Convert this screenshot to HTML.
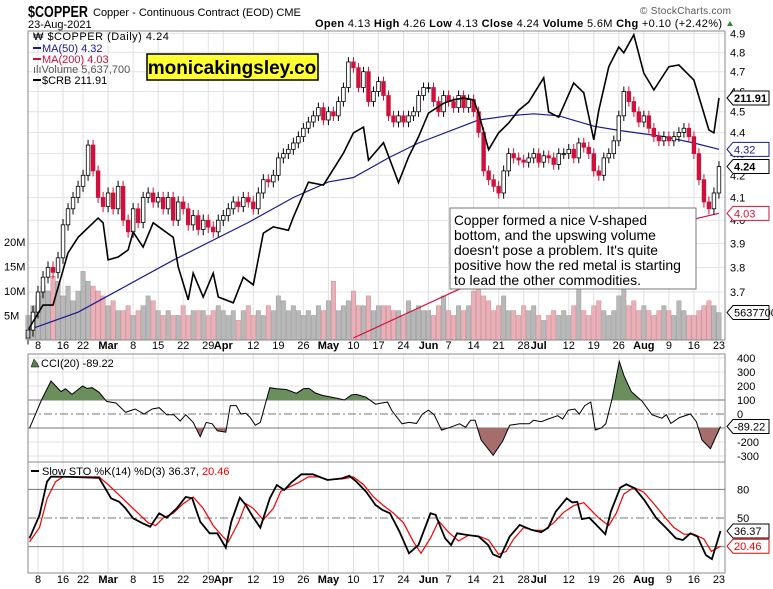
<!DOCTYPE html>
<html><head><meta charset="utf-8"><style>
html,body{margin:0;padding:0;background:#fff;}
svg{display:block;font-family:"Liberation Sans",sans-serif;}
</style></head><body>
<svg id="chart" width="773" height="589" viewBox="0 0 773 589" xmlns="http://www.w3.org/2000/svg">
<text x="28" y="17" font-size="16" font-weight="bold" textLength="60" lengthAdjust="spacingAndGlyphs">$COPPER</text>
<text x="93" y="16" font-size="11">Copper - Continuous Contract (EOD) CME</text>
<text x="28" y="28" font-size="11">23-Aug-2021</text>
<text x="640" y="14" font-size="10" fill="#555" textLength="91">© StockCharts.com</text>
<text x="315" y="27" font-size="11" textLength="407"><tspan font-weight="bold">Open</tspan> 4.13 <tspan font-weight="bold">High</tspan> 4.26 <tspan font-weight="bold">Low</tspan> 4.13 <tspan font-weight="bold">Close</tspan> 4.24 <tspan font-weight="bold">Volume</tspan> 5.6M <tspan font-weight="bold">Chg</tspan> +0.10 (+2.42%)</text>
<polygon points="727,26 733,26 730,21" fill="#2a8a2a"/>
<g id="grid"></g>
<g id="vol"></g>
<g id="main"></g>
<g id="ind"></g>
<g id="axes"></g>
<rect x="28" y="31" width="697" height="309" fill="none" stroke="#888"/>
<rect x="28" y="354" width="697" height="108" fill="none" stroke="#888"/>
<rect x="28" y="462" width="697" height="111" fill="none" stroke="#888"/>
<g font-size="11">
<text x="33" y="40" letter-spacing="0.5">₩ $COPPER (Daily) 4.24</text>
<line x1="33" y1="48" x2="41" y2="48" stroke="#1a1a8c" stroke-width="2"/><text x="42" y="52" fill="#1a1a8c">MA(50) 4.32</text>
<line x1="33" y1="59" x2="41" y2="59" stroke="#d0103a" stroke-width="2"/><text x="42" y="63" fill="#d0103a">MA(200) 4.03</text>
<text x="33" y="73" fill="#555">ılıVolume 5,637,700</text>
<line x1="33" y1="80" x2="41" y2="80" stroke="#000" stroke-width="2"/><text x="42" y="84">$CRB 211.91</text>
</g>
<g>
<rect x="147" y="54" width="171" height="26" fill="#ffff33" stroke="#000" stroke-width="1.5"/>
<text x="232" y="74" font-size="19" font-weight="bold" text-anchor="middle">monicakingsley.co</text>
</g>
<g>
<rect x="450" y="208" width="246" height="81" fill="#fff" stroke="#777"/>
<g font-size="14" font-family="'Liberation Sans Narrow','Liberation Sans',sans-serif">
<text x="454" y="225" textLength="193" lengthAdjust="spacingAndGlyphs">Copper formed a nice V-shaped</text>
<text x="454" y="240" textLength="202" lengthAdjust="spacingAndGlyphs">bottom, and the upswing volume</text>
<text x="454" y="255" textLength="204" lengthAdjust="spacingAndGlyphs">doesn't pose a problem. It's quite</text>
<text x="454" y="270" textLength="227" lengthAdjust="spacingAndGlyphs">positive how the red metal is starting</text>
<text x="454" y="285" textLength="187" lengthAdjust="spacingAndGlyphs">to lead the other commodities.</text>
</g></g>
<g font-size="11">
<polygon points="31,367 34,359 37,363 39,367" fill="#5d7f4f" stroke="#000" stroke-width="0.5"/>
<text x="41" y="367">CCI(20) -89.22</text></g>
<g font-size="11">
<line x1="31" y1="471" x2="39" y2="471" stroke="#000" stroke-width="2"/>
<text x="42" y="475">Slow STO %K(14) %D(3) 36.37, <tspan fill="#e00">20.46</tspan></text></g>
<g id="labels"></g>
</svg>
<script>
const closes=[3.55,3.62,3.70,3.76,3.80,3.78,3.84,3.98,4.05,4.10,4.15,4.20,4.34,4.22,4.10,4.06,
4.12,4.05,4.15,4.00,3.95,4.05,3.99,4.10,4.12,4.08,4.10,4.05,4.10,4.00,4.08,4.05,3.98,4.02,3.96,4.00,
3.97,3.95,4.00,4.02,4.05,4.08,4.06,4.10,4.08,4.05,4.12,4.18,4.17,4.20,4.28,4.30,4.32,4.35,4.38,4.42,4.45,4.48,4.52,4.46,
4.50,4.48,4.55,4.62,4.75,4.72,4.62,4.70,4.55,4.60,4.65,4.58,4.48,4.45,4.48,4.45,4.48,4.50,4.58,4.62,
4.62,4.55,4.50,4.58,4.55,4.52,4.58,4.52,4.56,4.50,4.40,4.22,4.18,4.15,4.12,4.22,4.30,4.28,4.27,4.26,4.28,4.30,4.26,4.29,
4.28,4.25,4.30,4.30,4.32,4.28,4.35,4.33,4.30,4.22,4.20,4.28,4.30,4.36,4.48,4.60,4.55,4.50,4.45,
4.48,4.42,4.38,4.36,4.38,4.36,4.38,4.40,4.42,4.38,4.30,4.18,4.08,4.05,4.12,4.24];
const volumes=[5,7,9,11,10,13,12,9,11,8,10,14,12,11,10,9,
7,8,6,6,7,5,6,7,9,8,6,5,6,5,5,7,5,6,6,6,
5,6,7,6,5,6,4,6,7,5,6,5,7,6,9,8,6,7,6,5,6,5,7,6,
8,12,6,7,8,10,7,7,9,6,7,7,7,6,6,5,8,6,7,6,
6,5,7,9,6,5,7,6,7,10,13,9,8,6,7,9,6,6,5,7,6,7,5,4,
5,6,5,6,5,7,11,6,5,7,8,6,5,6,9,11,7,8,6,
7,6,5,6,7,6,5,8,6,5,5,6,7,8,7,5.6];
const crbIdx=[0,3,5,8,10,14,15,16,18,20,21,23,25,29,30,32,33,35,37,38,41,43,45,47,49,52,53,56,59,63,65,67,68,71,74,76,78,80,83,85,87,89,90,92,94,96,98,100,103,104,106,109,111,113,114,116,118,119,121,123,125,128,130,133,136,137,138];
const crbVal=[171.9,176.2,176.2,185.2,187.9,191.2,190.4,184.0,184.5,185.7,188.8,186.2,190.4,187.9,182.8,177.1,181.7,177.6,181.7,177.6,176.6,181.0,179.7,188.6,189.7,189.1,191.4,197.4,196.9,202.4,205.9,206.9,201.2,204.2,197.3,201.7,205.2,209.3,211.0,211.6,211.9,211.6,209.3,203.0,205.9,207.6,209.8,211.2,215.4,209.5,208.6,214.5,212.8,204.7,209.8,217.3,220.7,219.7,222.8,216.2,213.3,217.3,217.6,215.0,206.4,205.9,211.91];
const ma50Idx=[0,10,29,44,53,60,65,72,78,90,96,101,106,113,118,127,133,138];
const ma50Val=[3.55,3.62,3.83,3.99,4.10,4.17,4.19,4.28,4.35,4.46,4.48,4.49,4.48,4.43,4.41,4.38,4.35,4.32];
const ma200Idx=[65,86,134,138];
const ma200Val=[3.52,3.71,4.01,4.03];
const cciIdx=[0.3,2.7,4.6,6.6,7.5,8.8,10.9,11.8,12.8,14.2,15.7,17.6,19.5,21.4,23.2,24.8,26.2,27.7,29.1,30.4,31.5,33,34.4,35.6,36.8,37.8,39.5,40.4,41.6,42.5,43.5,44.4,45.4,46.4,48.3,49.7,51.6,53.6,55,56.1,57.4,58.8,61.7,63.2,64.6,65.6,67.5,69.4,70.5,71.8,72.7,74.7,76.1,77.6,78.8,80,81.1,82.6,84.3,86.2,87.4,88.4,89.3,90.5,92.9,94.8,96.2,98.2,100.1,101,102.5,103.9,105.8,106.8,107.9,109.2,110.1,111.2,112.4,113.3,114.5,115.4,116.6,118.1,119.1,120.5,122.7,124.6,126.6,127.5,128.4,130.1,132.3,133.5,134.6,136.3,138.3];
const cciVal=[-102,100,236,160,180,140,200,183,188,155,90,78,12,36,0,36,45,-5,-5,-50,-5,-60,-162,-60,-70,-120,-130,60,60,0,5,-26,-80,-60,188,180,175,148,180,183,150,133,112,100,136,140,120,70,78,85,22,-70,-60,-67,0,27,-5,-115,-95,-70,-95,-45,-45,-185,-295,-195,-80,-70,-70,-45,-55,-36,-12,-36,27,36,0,60,85,-115,-100,-70,100,375,268,160,90,-5,-30,-5,-67,-26,0,-55,-185,-248,-89.22];
const kIdx=[0.3,2.3,3.8,4.6,8.2,14.2,16.6,18.2,19.5,21,22.9,24.4,26.2,27.7,29.7,31.5,32.8,34.4,36.3,37.8,39.5,40.6,42.3,43.5,44.9,46.4,48.3,49.7,51.2,52.6,54.6,56.9,59.8,62.7,64.2,65.6,67.5,69.4,70.8,72.3,74.2,76.1,78,80.4,81.4,83.3,84.5,85.7,87.6,90,91.9,92.9,94.3,96.2,98.2,100.6,102.5,103.9,105.4,107.6,108.7,109.7,110.6,112.1,113.5,115.3,116.4,118.3,119.5,121.2,123.1,125.5,127.5,129.4,130.8,132.3,133.7,135.4,136.6,138.3];
const kVal=[28.7,53,88,93.3,93,92,70.6,67,60,49.7,44.4,40.9,54.9,50.3,60,72,70.6,46.1,34,34,18.9,46,71.3,63.6,51.4,39.8,70.6,84.6,79.3,87.3,95.8,95.8,89.8,91.5,94.2,88,77.6,63.6,58.4,54.9,35.7,13,21.7,54.9,53.2,28.7,21.7,34,32.3,30.6,21.7,11.9,8.8,30.6,42.8,37.5,35.1,39.8,56.6,70.6,66.3,67,48.9,50.3,42.8,33,56.6,81.8,85.3,81.1,68.9,49.7,39.2,28.7,27,34,30.6,11.2,7,36.37];
const dIdx=[0.3,2.3,3.8,5.5,7,14.2,16,18,20,22,24,25.5,27,29,31,33,35,37,39,40,42,43.5,45,47,49,50.5,52,54,56,58,60,63,65,67,69,71,73,75,77,78.5,80.5,82,84,86,88,90,92,94,95.5,97,99,101,103,105,107,109,111,112.5,114,116,117.5,119,121,123,125,127,129,131,133,135,136.5,138.3];
const dVal=[25,40,70,88,93,93,85,75,65,55,45,42,50,55,65,72,60,42,30,25,45,65,60,48,60,78,82,87,93,93,90,91,93,85,72,63,55,45,25,13,30,47,35,26,32,31,27,12,15,28,40,37,37,45,56,63,66,58,50,42,55,75,82,77,65,52,40,33,33,28,15,20.46];
const dateIdx=[2,7,11,16,21,26,31,36,39,45,50,55,60,65,70,75,80,84,89,94,99,102,108,113,118,123,128,133,138];
const dateLbl=["8","16","22","Mar","8","15","22","29","Apr","12","19","26","May","10","17","24","Jun","7","14","21","28","Jul","12","19","26","Aug","9","16","23"];
const priceTicks=[4.9,4.8,4.7,4.6,4.5,4.4,4.3,4.2,4.1,4.0,3.9,3.8,3.7];
const volTicks=[20,15,10,5];
const cciTicks=[400,300,200,100,0,-200,-300];
const stoTicks=[80,50];

const NS="http://www.w3.org/2000/svg";
const X=i=>38+(i-2)*5.007;
const Y=p=>1497-921*Math.log(p);
const VY=v=>340-v*4.9;
const CY=v=>98-(v-211.91)*5.8;
const CCIY=v=>414-v*0.14;
const SY=v=>518-(v-50)*0.955;
function mk(parent,tag,attrs){const e=document.createElementNS(NS,tag);for(const k in attrs)e.setAttribute(k,attrs[k]);document.getElementById(parent).appendChild(e);return e;}
function pts(idx,val,fy){return idx.map((d,j)=>X(d).toFixed(1)+","+fy(val[j]).toFixed(1)).join(" ");}

dateIdx.forEach((d,j)=>{
 [[31,340],[354,462],[462,573]].forEach(r=>{
  const l=mk('grid','line',{x1:X(d),x2:X(d),y1:r[0],y2:r[1],stroke:'#e0e0e0'});
  
  
 });
 [349,583].forEach(yy=>{
  const t=mk('axes','text',{x:X(d),y:yy,'font-size':11,'text-anchor':'middle','font-weight':isNaN(+dateLbl[j])?'bold':'normal'});
  t.textContent=dateLbl[j];
  
  
 });
});
priceTicks.forEach(p=>{
 const l=mk('grid','line',{x1:28,x2:725,y1:Y(p),y2:Y(p),stroke:'#e4e4e4'});
 
 
 const t=mk('axes','text',{x:730,y:Y(p)+4,'font-size':11});
 t.textContent=p.toFixed(1);
 
 
});
volTicks.forEach(v=>{
 const t=mk('axes','text',{x:4,y:VY(v)+4,'font-size':11});
 t.textContent=v+'M';
 
 
});
cciTicks.forEach(v=>{
 const s=(v===100||v===0)?'#777':'#e0e0e0';
 const l=mk('grid','line',{x1:28,x2:725,y1:CCIY(v),y2:CCIY(v),stroke:s,'stroke-dasharray':v===0?'8,3,2,3':'none'});
 
 
 const t=mk('axes','text',{x:737,y:CCIY(v)+4,'font-size':11});
 t.textContent=v;
 
 
});
[-100].forEach(v=>{const l=mk('grid','line',{x1:28,x2:725,y1:CCIY(v),y2:CCIY(v),stroke:'#777'});
 
 });
[80,50,20].forEach(v=>{
 const l=mk('grid','line',{x1:28,x2:725,y1:SY(v),y2:SY(v),stroke:'#777','stroke-dasharray':v===50?'8,3,2,3':'none'});
 
 
});
stoTicks.forEach(v=>{const t=mk('axes','text',{x:737,y:SY(v)+4,'font-size':11});
 t.textContent=v;
 
 });

volumes.forEach((v,i)=>{
 const down=i>0&&closes[i]<closes[i-1];
 const r=mk('vol','rect',{x:X(i)-2.2,y:VY(v),width:4.4,height:340-VY(v),fill:down?'#eab0b8':'#b8b8b8',stroke:down?'#c98a92':'#9a9a9a','stroke-width':0.5});
 
 
});
let l1=mk('main','polyline',{points:pts(ma200Idx,ma200Val,Y),fill:'none',stroke:'#d0103a','stroke-width':1.2});


let l2=mk('main','polyline',{points:pts(ma50Idx,ma50Val,Y),fill:'none',stroke:'#1a1a8c','stroke-width':1.2});


closes.forEach((c,i)=>{
 const o=i>0?closes[i-1]:c-0.03;
 const up=c>=o;
 const hi=Math.max(o,c)+0.025, lo=Math.min(o,c)-0.025;
 const col=up?'#000':'#d0103a';
 const w=mk('main','line',{x1:X(i),x2:X(i),y1:Y(hi),y2:Y(lo),stroke:col});
 
 
 const top=Y(Math.max(o,c)),bot=Y(Math.min(o,c));
 const b=mk('main','rect',{x:X(i)-1.8,y:top,width:3.6,height:Math.max(1,bot-top),fill:up?'#fff':'#d0103a',stroke:col,'stroke-width':0.8});
 
 
});
let cr=mk('main','polyline',{points:pts(crbIdx,crbVal,CY),fill:'none',stroke:'#000','stroke-width':1.6});



const cp=pts(cciIdx,cciVal,CCIY);
const defs=mk('ind','defs',{});
defs.innerHTML='<clipPath id="cA"><rect x="28" y="354" width="697" height="'+(CCIY(100)-354)+'"/></clipPath><clipPath id="cB"><rect x="28" y="'+CCIY(-100)+'" width="697" height="'+(462-CCIY(-100))+'"/></clipPath>';
let fa=mk('ind','polygon',{points:X(cciIdx[0])+','+CCIY(100)+' '+cp+' '+X(cciIdx[cciIdx.length-1])+','+CCIY(100),fill:'#6a8f5c','clip-path':'url(#cA)'});


let fb=mk('ind','polygon',{points:X(cciIdx[0])+','+CCIY(-100)+' '+cp+' '+X(cciIdx[cciIdx.length-1])+','+CCIY(-100),fill:'#a56e6c','clip-path':'url(#cB)'});


let cl=mk('ind','polyline',{points:cp,fill:'none',stroke:'#000','stroke-width':1});


let dl=mk('ind','polyline',{points:pts(dIdx,dVal,SY),fill:'none',stroke:'#e00','stroke-width':1.2});


let kl=mk('ind','polyline',{points:pts(kIdx,kVal,SY),fill:'none',stroke:'#000','stroke-width':1.8});



function tag(y,txt,col,bold,name){
 const g=mk('labels','g',{});
 
 
 const p=document.createElementNS(NS,'polygon');
 p.setAttribute('points',`727,${y} 733,${y-7} 769,${y-7} 769,${y+7} 733,${y+7}`);
 p.setAttribute('fill','#fff');p.setAttribute('stroke',col);
 g.appendChild(p);
 const t=document.createElementNS(NS,'text');
 t.setAttribute('x',734);t.setAttribute('y',y+4);t.setAttribute('font-size',11);t.setAttribute('fill',col);
 if(bold)t.setAttribute('font-weight','bold');
 t.textContent=txt;g.appendChild(t);
}
tag(CY(crbVal[crbVal.length-1]),'211.91','#000',true,'crb-value-tag');
tag(Y(ma50Val[ma50Val.length-1]),'4.32','#1a1a8c',false,'ma50-value-tag');
tag(Y(closes[closes.length-1]),'4.24','#000',true,'price-value-tag');
tag(Y(ma200Val[ma200Val.length-1]),'4.03','#d0103a',false,'ma200-value-tag');
tag(VY(volumes[volumes.length-1]),'5637700','#000',false,'volume-value-tag');
tag(CCIY(cciVal[cciVal.length-1]),'-89.22','#000',false,'cci-value-tag');
tag(SY(kVal[kVal.length-1]),'36.37','#000',false,'sto-k-value-tag');
tag(SY(dVal[dVal.length-1]),'20.46','#e00',false,'sto-d-value-tag');
</script>
</body></html>
